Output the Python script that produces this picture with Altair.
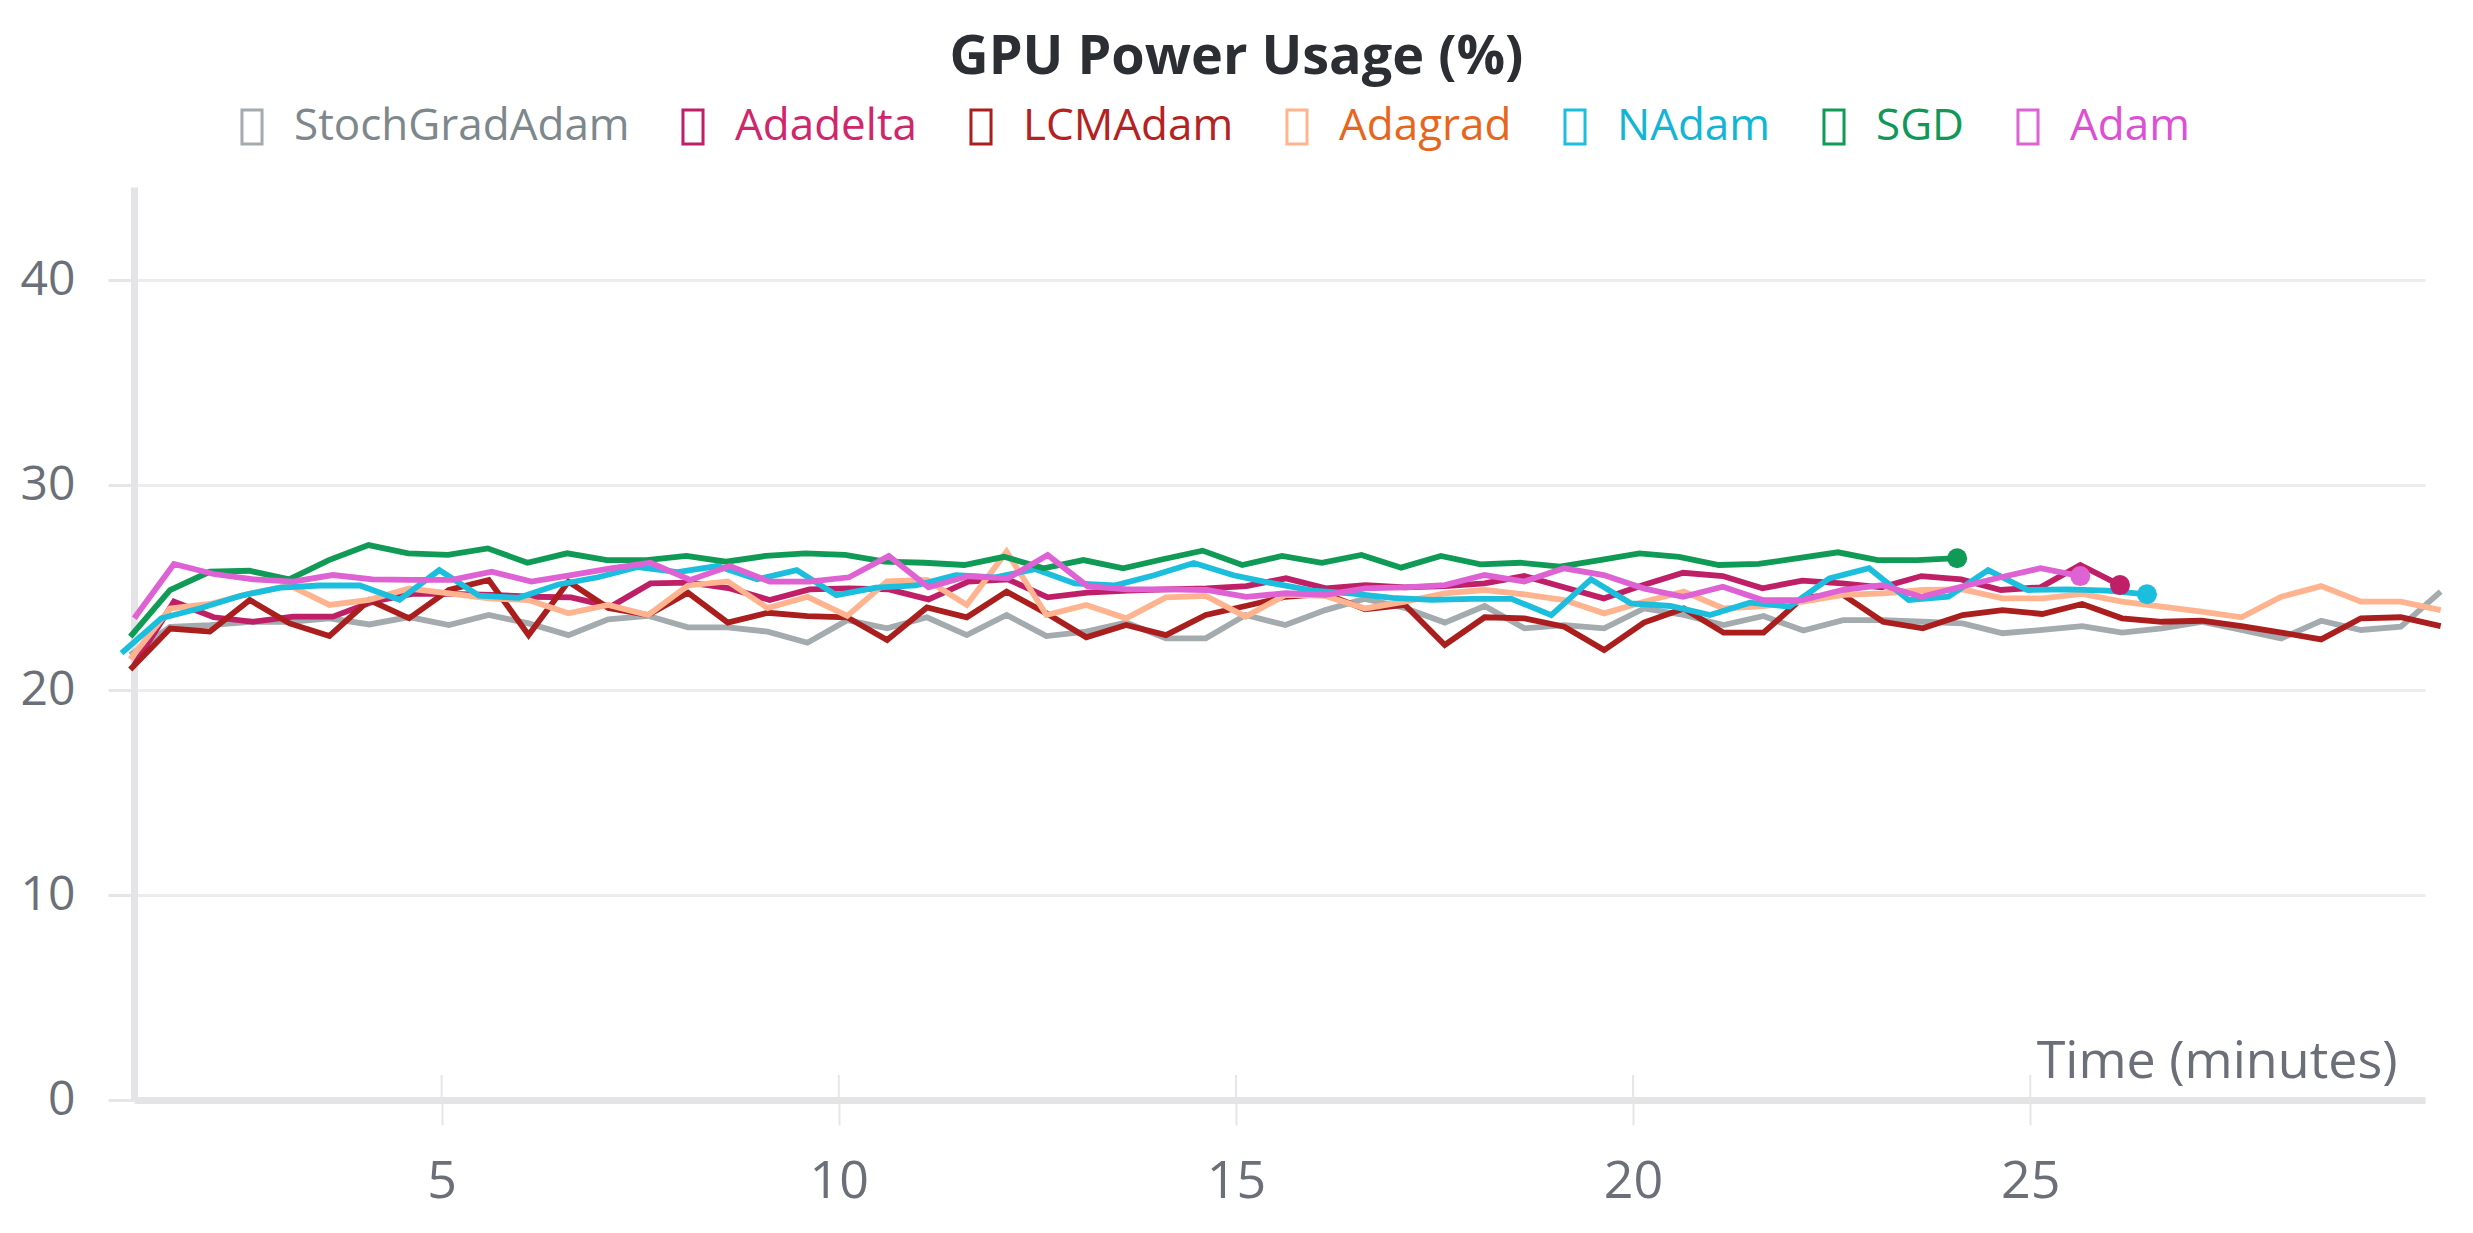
import altair as alt
import pandas as pd

# ---------------- data ----------------
SERIES = ["StochGradAdam", "Adadelta", "LCMAdam", "Adagrad", "NAdam", "SGD", "Adam"]
LINE_COLORS = ["#a3abaf", "#bf1f66", "#aa1e1e", "#ffb48f", "#1bbfdd", "#0f9a56", "#de62d4"]
LABEL_COLORS = ["#7d878c", "#d0266b", "#b42222", "#e8661c", "#12b5d6", "#10985a", "#dd4fd3"]

# first sample time (minutes) and sampling step of every run
START = [1.08, 1.13, 1.08, 1.08, 0.97, 1.08, 1.13]
STEP = [0.5015, 0.5, 0.5015, 0.5015, 0.5, 0.5, 0.5]
HAS_END_DOT = [False, True, False, False, True, True, True]

stochgradadam = [21.7, 23.08, 23.17, 23.33, 23.33, 23.5, 23.2, 23.56, 23.17, 23.66,
                 23.25, 22.68, 23.45, 23.62, 23.06, 23.06, 22.85, 22.31, 23.41, 23.01,
                 23.55, 22.68, 23.66, 22.63, 22.85, 23.29, 22.52, 22.52, 23.66, 23.17,
                 23.9, 24.45, 24.0, 23.29, 24.1, 23.01, 23.17, 23.01, 23.98, 23.66,
                 23.17, 23.61, 22.9, 23.41, 23.41, 23.33, 23.25, 22.77, 22.93, 23.12,
                 22.8, 23.01, 23.33, 22.93, 22.52, 23.38, 22.93, 23.09, 24.8]
adadelta = [21.22, 24.31, 23.55, 23.33, 23.58, 23.58, 24.31, 24.69, 24.69, 24.64,
            24.55, 24.52, 24.07, 25.2, 25.24, 24.96, 24.39, 24.91, 24.96, 24.91,
            24.42, 25.29, 25.4, 24.52, 24.75, 24.85, 24.91, 24.96, 25.07, 25.45,
            24.96, 25.12, 25.01, 25.07, 25.2, 25.56, 25.01, 24.47, 25.12, 25.72,
            25.56, 24.96, 25.34, 25.2, 25.01, 25.56, 25.4, 24.88, 25.01, 26.1, 25.12]
lcmadam = [21.0, 23.0, 22.85, 24.39, 23.25, 22.64, 24.39, 23.5, 24.88, 25.37,
           22.68, 25.29, 24.0, 23.66, 24.75, 23.29, 23.77, 23.61, 23.55, 22.44,
           24.03, 23.55, 24.8, 23.74, 22.57, 23.17, 22.68, 23.66, 24.1, 24.55,
           24.69, 23.94, 24.15, 22.2, 23.55, 23.5, 23.09, 21.95, 23.29, 23.98,
           22.8, 22.8, 24.52, 24.64, 23.33, 23.01, 23.66, 23.9, 23.71, 24.2,
           23.5, 23.33, 23.38, 23.12, 22.8, 22.47, 23.5, 23.55, 23.12]
adagrad = [21.5, 23.98, 24.2, 24.7, 25.1, 24.15, 24.4, 24.95, 24.72, 24.47,
           24.39, 23.74, 24.15, 23.66, 25.1, 25.3, 24.0, 24.55, 23.62, 25.3,
           25.37, 24.15, 26.75, 23.66, 24.15, 23.5, 24.52, 24.59, 23.58, 24.64,
           24.59, 23.98, 24.31, 24.72, 24.88, 24.67, 24.39, 23.74, 24.31, 24.8,
           23.98, 24.1, 24.31, 24.64, 24.72, 24.88, 24.91, 24.47, 24.47, 24.69,
           24.31, 24.07, 23.82, 23.55, 24.55, 25.07, 24.31, 24.31, 23.9]
nadam = [21.8, 23.5, 24.0, 24.6, 25.0, 25.1, 25.1, 24.4, 25.85, 24.6,
         24.5, 25.15, 25.5, 26.0, 25.75, 26.05, 25.4, 25.85, 24.63, 25.0,
         25.1, 25.6, 25.5, 25.9, 25.2, 25.1, 25.6, 26.2, 25.6, 25.2,
         24.85, 24.7, 24.5, 24.4, 24.45, 24.45, 23.65, 25.4, 24.23, 24.1,
         23.66, 24.26, 24.07, 25.45, 25.94, 24.39, 24.55, 25.85, 24.88, 24.91,
         24.85, 24.67]
sgd = [22.6, 24.88, 25.77, 25.82, 25.4, 26.34, 27.07, 26.67, 26.59, 26.91,
       26.21, 26.67, 26.34, 26.34, 26.54, 26.26, 26.54, 26.67, 26.59, 26.26,
       26.21, 26.1, 26.5, 25.94, 26.34, 25.94, 26.38, 26.8, 26.1, 26.54,
       26.21, 26.59, 25.97, 26.54, 26.13, 26.21, 26.02, 26.34, 26.67, 26.5,
       26.1, 26.15, 26.43, 26.72, 26.34, 26.34, 26.43]
adam = [23.5, 26.15, 25.66, 25.4, 25.29, 25.61, 25.4, 25.37, 25.37, 25.77,
        25.29, 25.61, 25.94, 26.21, 25.37, 26.05, 25.29, 25.29, 25.5, 26.54,
        25.01, 25.56, 25.45, 26.59, 25.07, 24.91, 24.91, 24.88, 24.55, 24.72,
        24.64, 24.96, 25.01, 25.12, 25.61, 25.29, 25.94, 25.61, 24.96, 24.55,
        25.04, 24.39, 24.39, 24.88, 25.12, 24.55, 25.04, 25.5, 25.94, 25.56]

VALUES = [stochgradadam, adadelta, lcmadam, adagrad, nadam, sgd, adam]
X_TICKS = [5, 10, 15, 20, 25]
Y_TICKS = [0, 10, 20, 30, 40]

# ---------------- tables ----------------
rows, ends = [], []
for name, t0, dt, vals, color, dot in zip(SERIES, START, STEP, VALUES, LINE_COLORS, HAS_END_DOT):
    for i, v in enumerate(vals):
        rows.append({"optimizer": name, "time": round(t0 + dt * i, 4), "value": v, "i": i})
    if dot:
        ends.append({"optimizer": name, "time": round(t0 + dt * (len(vals) - 1), 4),
                     "value": vals[-1], "hex": color})
df = pd.DataFrame(rows)
df_end = pd.DataFrame(ends)
df_ticks = pd.DataFrame({"time": X_TICKS})

# ---------------- layout ----------------
PLOT_W, PLOT_H = 2291, 913
FONT = "Open Sans"
TEXT_GRAY = "#6b6f78"
AXIS_GRAY = "#e4e4e6"

x_scale = alt.Scale(domain=[1.127, 29.97], nice=False, zero=False)
y_scale = alt.Scale(domain=[0, 44.54], nice=False)

label_expr = ""
for name, c in zip(SERIES[:-1], LABEL_COLORS[:-1]):
    label_expr += f"datum.value == '{name}' ? '{c}' : "
label_expr += f"'{LABEL_COLORS[-1]}'"

x_axis = alt.Axis(
    values=X_TICKS, format="d", grid=False,
    title="Time (minutes)", titleFont=FONT, titleFontSize=52, titleFontWeight="normal",
    titleColor=TEXT_GRAY, titleAlign="right", titleBaseline="alphabetic",
    titleX=2263, titleY=-23,
    labelFont=FONT, labelFontSize=52, labelColor=TEXT_GRAY, labelPadding=31,
    tickSize=25, tickColor="#e6e6e6", tickWidth=2,
    domainColor=AXIS_GRAY, domainWidth=7,
)
y_axis = alt.Axis(
    values=Y_TICKS, title=None,
    labelFont=FONT, labelFontSize=48, labelColor=TEXT_GRAY, labelPadding=33,
    tickSize=26, tickColor="#e6e6e6", tickWidth=3,
    domainColor=AXIS_GRAY, domainWidth=7,
    grid=True, gridColor="#ededed", gridWidth=3,
)

legend = alt.Legend(
    title=None, orient="none", legendX=96, legendY=-82, direction="horizontal",
    columns=7, padding=0,
    symbolType="M-0.59,-1H0.59V1H-0.59Z", symbolSize=1156, symbolStrokeWidth=3,
    symbolFillColor="transparent",
    labelFont=FONT, labelFontSize=44, labelOffset=20, labelLimit=800,
    labelColor=alt.ExprRef(expr=label_expr),
    columnPadding=41,
)

tick_up = alt.Chart(df_ticks).mark_rule(color="#e6e6e6", strokeWidth=2).encode(
    x=alt.X("time:Q", scale=x_scale),
    y=alt.value(PLOT_H - 25),
    y2=alt.value(PLOT_H),
)

lines = alt.Chart(df).mark_line(strokeWidth=5.8, strokeJoin="miter").encode(
    x=alt.X("time:Q", scale=x_scale, axis=x_axis),
    y=alt.Y("value:Q", scale=y_scale, axis=y_axis),
    color=alt.Color("optimizer:N", scale=alt.Scale(domain=SERIES, range=LINE_COLORS),
                    legend=legend),
    order=alt.Order("i:Q"),
)

dots = alt.Chart(df_end).mark_circle(size=400, opacity=1).encode(
    x=alt.X("time:Q", scale=x_scale),
    y=alt.Y("value:Q", scale=y_scale),
    color=alt.Color("hex:N", scale=None),
)

chart = alt.layer(tick_up, lines, dots).properties(
    width=PLOT_W, height=PLOT_H,
    padding={"left": 126, "top": 179, "right": 40, "bottom": 125},
    autosize=alt.AutoSizeParams(type="none"),
    background="white",
    title=alt.TitleParams(
        "GPU Power Usage (%)", font=FONT, fontSize=54, fontWeight="bold",
        color="#2b2f33", anchor="middle", frame="group", offset=-23,
        baseline="alphabetic", dx=-43,
    ),
).configure_view(stroke=None)

chart.save("out.html", embed_options={"renderer": "svg", "actions": False})
